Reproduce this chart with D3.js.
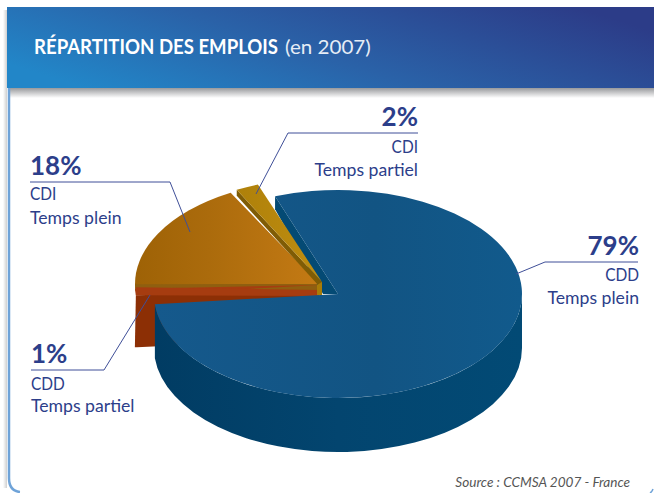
<!DOCTYPE html>
<html><head><meta charset="utf-8">
<script src="https://cdn.jsdelivr.net/npm/d3@7"></script>
<style>html,body{margin:0;padding:0;background:#fff}svg{display:block}text{font-family:Lato,"Noto Sans",sans-serif}</style>
</head><body><svg id="c" width="654" height="493"></svg>
<script>
// data
const categories = ["CDD Temps plein","CDD Temps partiel","CDI Temps plein","CDI Temps partiel"];
const values = [79,1,18,2];
const percentLabels = ["79%","1%","18%","2%"];
const contractLabels = ["CDD","CDD","CDI","CDI"];
const timeLabels = ["Temps plein","Temps partiel","Temps plein","Temps partiel"];
const sourceText = "Source : CCMSA 2007 - France";

// layout / style
const RX=184,RY=104,DEPTH=54;
const centers=[[338,294],[319,285],[319,284],[322,282]];
const angleShift=[0,0,-1.5,-0.4];
const tops=["url(#gBlue)","#a63c10","url(#gOrange)","url(#gYellow)"];
const wall={blue:"url(#gBlueSide)",blueCut:"#044a74",red:"#8c2f05",orange:"#8f5f10",yellow:"#7f5c05",yellowTip:"#a87c08"};
const ink="#2c3e8a";
const rad=d=>d*Math.PI/180;

const svg=d3.select("#c");
const defs=svg.append("defs");
function grad(id,stops,x1=0,y1=0,x2=1,y2=0){
  const g=defs.append("linearGradient").attr("id",id).attr("x1",x1).attr("y1",y1).attr("x2",x2).attr("y2",y2);
  stops.forEach(s=>g.append("stop").attr("offset",s[0]).attr("stop-color",s[1]));
}
grad("gHead",[[0,"#2286c8"],[0.45,"#2a62a8"],[1,"#2c3c88"]],0,0.7,1,0.3);
grad("gShadow",[[0,"#98999c"],[1,"#ffffff"]],0,0,0,1);
grad("gLeft",[[0,"#ffffff"],[1,"#cfcfcf"]]);
grad("gOrange",[[0,"#9e6206"],[0.4,"#ab6b0c"],[1,"#c47a14"]]);
grad("gYellow",[[0,"#ae800a"],[1,"#c08e10"]]);
grad("gBlue",[[0,"#15598c"],[0.6,"#125483"],[1,"#115a8c"]]);
grad("gBlueSide",[[0,"#013c63"],[0.5,"#03456f"],[1,"#024a75"]]);

// frame
svg.append("rect").attr("x",3).attr("y",10).attr("width",4).attr("height",478).attr("fill","url(#gLeft)");
svg.append("rect").attr("x",8).attr("y",88).attr("width",646).attr("height",10).attr("fill","url(#gShadow)");
svg.append("path").attr("d","M9 88V478Q9 491 20 492").attr("fill","none").attr("stroke","#6fa3d8").attr("stroke-width",2.5);
svg.append("path").attr("d","M650 493Q652 492 653 489").attr("fill","none").attr("stroke","#6fa3d8").attr("stroke-width",1.5);
svg.append("rect").attr("x",7).attr("y",7).attr("width",647).attr("height",81).attr("fill","url(#gHead)");
svg.append("text").attr("transform","translate(34,54) scale(0.93,1)").attr("fill","#fff").attr("font-size",20).attr("font-weight",700).text("RÉPARTITION DES EMPLOIS");
svg.append("text").attr("transform","translate(285,54) scale(1.03,1)").attr("fill","#e6edf6").attr("font-size",20).text("(en 2007)");

// pie
const pie=d3.pie().sort(null).value(d=>d).startAngle(rad(-20)).endAngle(rad(340));
const arcs=pie(values).map((d,i)=>({...d,a0:d.startAngle+rad(angleShift[i]),a1:d.endAngle+rad(angleShift[i]),cx:centers[i][0],cy:centers[i][1],i}));
const arcGen=d3.arc().innerRadius(0).outerRadius(RX);
const pt=(d,a)=>[d.cx+RX*Math.sin(a),d.cy-RY*Math.cos(a)];
const g=svg.append("g");
const poly=(pts,fill)=>g.append("path").attr("d","M"+pts.map(p=>p.join(",")).join("L")+"Z").attr("fill",fill);
const topFace=d=>g.append("path")
  .attr("d",arcGen({startAngle:d.a0,endAngle:d.a1}))
  .attr("transform",`translate(${d.cx},${d.cy}) scale(1,${RY/RX})`)
  .attr("fill",tops[d.i]);
const [blue,red,orange,yellow]=arcs;

// red cut face (extruded fully, blue hides the rest)
{const c=pt(red,red.a0);
 poly([[c[0],c[1]],[red.cx,red.cy+6],[red.cx,red.cy+DEPTH],[c[0]+1,c[1]+DEPTH-2],[c[0]-1,c[1]+DEPTH-2]],wall.red);}
// orange face + its thin cut band
topFace(orange);
{const c=pt(orange,orange.a0);
 poly([[c[0],c[1]-6],[orange.cx,orange.cy],[orange.cx,orange.cy+6],[c[0],c[1]+1]],wall.orange);}
// red top + band
topFace(red);
{const c=pt(red,red.a0);
 poly([[c[0],c[1]-8],[red.cx,red.cy+5],[red.cx,red.cy+11],[c[0],c[1]]],tops[1]);}
// blue cut wall, visible as a strip behind yellow
{const c=pt(blue,blue.a0);
 poly([c,[blue.cx,blue.cy],[blue.cx-15,blue.cy],[c[0],c[1]+13]],wall.blueCut);}
// yellow cut band
{const c=pt(yellow,yellow.a0);
 poly([c,[yellow.cx,yellow.cy],[yellow.cx,yellow.cy+3],[yellow.cx-3,yellow.cy+4],[c[0],c[1]+6]],wall.yellow);
 poly([[yellow.cx-5,yellow.cy+3],[yellow.cx,yellow.cy],[yellow.cx,yellow.cy+13],[yellow.cx-5,yellow.cy+13]],wall.yellowTip);}
topFace(yellow);
// blue outer wall
{const a0=rad(90),a1=blue.a1,p0=pt(blue,a0),p1=pt(blue,a1);
 g.append("path").attr("d",
  `M${p0}A${RX},${RY} 0 0 1 ${p1}L${p1[0]},${p1[1]+DEPTH}A${RX},${RY} 0 0 0 ${p0[0]},${p0[1]+DEPTH}Z`)
  .attr("fill",wall.blue);}
topFace(blue);

// leader lines
const lineGen=d3.line();
const leaders=[[[638,262],[545,262],[516,274]],[[31,370],[104,370],[150,295]],[[30,182],[170,182],[190,232]],[[418,133],[288,133],[256,194]]];
svg.append("g").selectAll("path").data(leaders).join("path").attr("d",d=>lineGen(d))
  .attr("fill","none").attr("stroke","#3f4f98").attr("stroke-width",1);

// labels
const lab=[{x:639,a:"end",y:[255,281,304]},{x:31,a:"start",y:[363,389.5,412]},{x:30,a:"start",y:[175,200,224]},{x:418,a:"end",y:[126,153,176]}];
lab.forEach((l,i)=>{
  const add=(t,y,fs,w,sx)=>svg.append("text").attr("transform",`translate(${l.x},${y}) scale(${sx},1)`).attr("text-anchor",l.a).attr("font-size",fs).attr("font-weight",w).attr("fill",ink).text(t);
  add(percentLabels[i],l.y[0],26,700,1);
  add(contractLabels[i],l.y[1],18,400,0.86);
  add(timeLabels[i],l.y[2],18,400,0.98);
});
svg.append("text").attr("x",630).attr("y",487).attr("text-anchor","end").attr("font-size",13.6).attr("font-style","italic").attr("fill","#555").text(sourceText);
</script></body></html>
